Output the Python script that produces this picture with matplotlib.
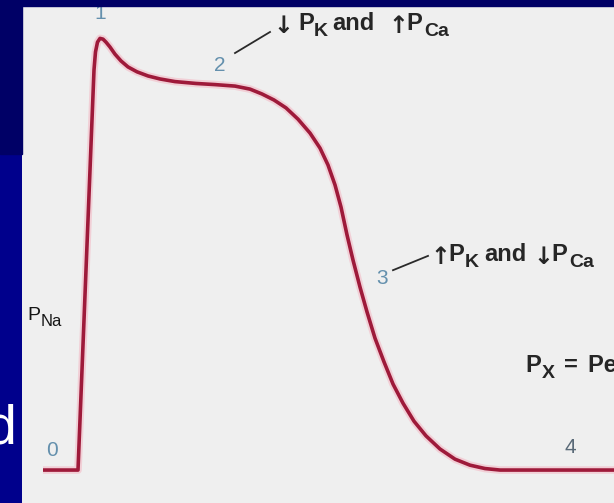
import matplotlib
matplotlib.use("Agg")
import matplotlib.pyplot as plt
from matplotlib.patches import Rectangle

plt.rcParams["font.family"] = ["Liberation Sans", "DejaVu Sans"]

# Ventricular action potential: time (ms) and membrane potential (mV)
time_ms = [-28, 0, 12.8, 14.0, 15.6, 17.6, 20.0, 22.4, 25.6, 29.6, 34.4,
           40.0, 47.2, 56.0, 65.6, 77.6, 94.4, 109.6, 125.6, 137.6, 147.2,
           156.8, 166.4, 176.0, 185.6, 193.6, 200.0, 205.6, 210.4, 215.2,
           220.0, 225.6, 231.2, 237.6, 244.8, 252.0, 260.0, 268.8, 278.4,
           289.6, 301.6, 313.6, 325.6, 337.6, 430]
voltage_mv = [-90, -90, 16.5, 21.3, 23.9, 24.9, 24.7, 23.9, 22.6, 20.7, 18.9,
              17.3, 16.0, 14.9, 14.1, 13.4, 12.9, 12.6, 12.2, 11.4, 10.1,
              8.5, 6.4, 3.4, -0.3, -4.3, -8.8, -14.1, -20.0, -27.4,
              -34.1, -41.3, -47.9, -54.9, -61.2, -67.1, -72.2, -77.0, -80.9,
              -84.4, -87.1, -88.7, -89.6, -90, -90]

# Phase numbers and where they sit (ms, mV)
phase_labels = ["0", "1", "2", "3", "4"]
phase_t = [-20.8, 17.6, 113.6, 243.2, 393.6]
phase_v = [-84.7, 31.4, 17.8, -38.9, -84.1]

W, H = 614, 503
DPI = 100
fig = plt.figure(figsize=(W / DPI, H / DPI), dpi=DPI, facecolor="#00008c")

# slide background pieces
fig.patches.append(Rectangle((0, 1 - 154 / H), 22 / W, 154 / H,
                             transform=fig.transFigure, color="#000066", zorder=0))
fig.text(16 / W, 1 - 443 / H, "d", color="white", fontsize=40,
         ha="right", va="baseline")

ax = fig.add_axes([22 / W, 0, 1 - 22 / W, 1 - 6 / H])
ax.set_facecolor("#efefef")
for s in ax.spines.values():
    s.set_visible(False)
ax.set_xticks([])
ax.set_yticks([])
ax.set_xlim(-44.8, 428.8)
ax.set_ylim(-98.77, 33.52)

ax.plot(time_ms, voltage_mv, color="#f5a9b8", lw=5.5, alpha=0.45,
        solid_joinstyle="round", solid_capstyle="butt")
ax.plot(time_ms, voltage_mv, color="#9e1a3a", lw=2.6,
        solid_joinstyle="round", solid_capstyle="butt")

for lab, t, v in zip(phase_labels, phase_t, phase_v):
    ax.text(t, v, lab, color="#6490ad" if lab != "4" else "#5a6a78",
            fontsize=15, ha="center", va="center", clip_on=False)

renderer = fig.canvas.get_renderer()
ARROW_FONT = "DejaVu Sans"


def draw_runs(x, y, runs, color="#262626", weight="bold"):
    """Draw text pieces one after another on a shared baseline.

    Each run is (text, fontsize, baseline shift in points, gap before in points).
    Arrow glyphs are set in DejaVu Sans, everything else in Liberation Sans.
    """
    dx = 0.0
    for text, size, shift, gap in runs:
        dx += gap
        family = ARROW_FONT if text in ("\u2191", "\u2193") else "Liberation Sans"
        t = ax.annotate(text, xy=(x, y), xytext=(dx, shift),
                        textcoords="offset points", fontsize=size,
                        color=color, fontweight=weight, va="baseline",
                        ha="left", annotation_clip=False, family=family)
        dx += t.get_window_extent(renderer).width * 72 / DPI


BIG, SUB, ARW = 17, 14, 17
ax.plot([125.6, 153.6], [21.0, 26.6], color="#2a2a2a", lw=1.3)
draw_runs(156.0, 27.1, [("\u2193", ARW, -2, 0), ("P", BIG, 0, 4),
                        ("K", SUB, -4, 0), ("and", BIG, 0, 3),
                        ("\u2191", ARW, -2, 10), ("P", BIG, 0, -1),
                        ("Ca", SUB, -4, 1)])
ax.plot([252, 280], [-36.8, -33.0], color="#2a2a2a", lw=1.3)
draw_runs(282, -34.4, [("\u2191", ARW, -2, 0), ("P", BIG, 0, -1),
                       ("K", SUB, -4, 0), ("and", BIG, 0, 4),
                       ("\u2193", ARW, -2, 5), ("P", BIG, 0, -1),
                       ("Ca", SUB, -4, 1)])
draw_runs(-40.8, -50.1, [("P", 14, 0, 0), ("Na", 12, -4, 0.5)],
          weight="normal", color="#151515")
draw_runs(357.6, -63.9, [("P", BIG, 0, 0), ("X", SUB, -4, 0.5),
                         ("=", BIG, 0, 7), ("Permeability to X", BIG, 0, 7)])

# top slide band
fig.patches.append(Rectangle((0, 1 - 6 / H), 1, 6 / H,
                             transform=fig.transFigure, color="#000066", zorder=10))

fig.savefig("out.png", dpi=DPI, facecolor=fig.get_facecolor())
